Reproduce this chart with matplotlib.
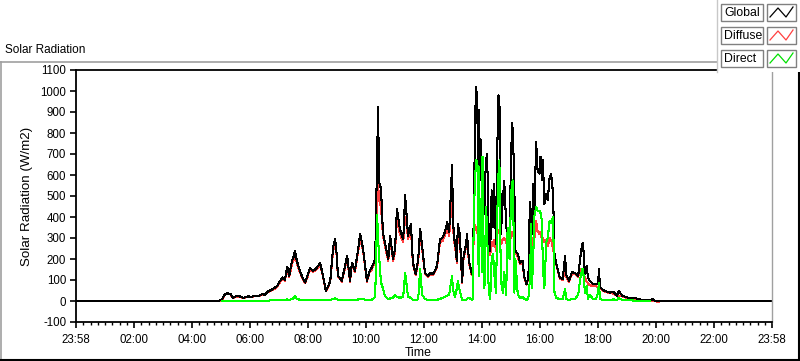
import numpy as np
import matplotlib
matplotlib.use("Agg")
import matplotlib.pyplot as plt
from matplotlib.lines import Line2D
from matplotlib.patches import Rectangle
from matplotlib.ticker import FixedLocator, NullFormatter

plt.rcParams['font.family'] = ['Liberation Sans', 'DejaVu Sans']

nan = np.nan
# Data (first time is from the previous day)
TIMES = ["23:58", "04:52", "05:00", "05:06", "05:11", "05:17", "05:23", "05:31", "05:37", "05:44",
         "05:50", "05:54", "06:01", "06:08", "06:15", "06:23", "06:29", "06:35", "06:44", "06:50",
         "06:55", "07:00", "07:06", "07:10", "07:15", "07:19", "07:25", "07:29", "07:31", "07:35",
         "07:41", "07:47", "07:52", "07:57", "08:02", "08:08", "08:13", "08:19", "08:23", "08:29",
         "08:35", "08:40", "08:44", "08:50", "08:54", "08:57", "09:00", "09:04", "09:08", "09:14",
         "09:19", "09:25", "09:29", "09:35", "09:40", "09:46", "09:52", "10:00", "10:05", "10:10",
         "10:17", "10:21", "10:23", "10:25", "10:29", "10:33", "10:37", "10:44", "10:48", "10:54",
         "10:58", "11:02", "11:08", "11:15", "11:19", "11:23", "11:25", "11:31", "11:35", "11:41",
         "11:46", "11:50", "11:54", "12:00", "12:06", "12:12", "12:17", "12:25", "12:31", "12:36",
         "12:41", "12:46", "12:50", "12:56", "12:58", "13:00", "13:02", "13:06", "13:08", "13:12",
         "13:17", "13:19", "13:25", "13:27", "13:31", "13:37", "13:39", "13:41", "13:44", "13:46",
         "13:48", "13:49", "13:51", "13:52", "13:54", "13:56", "13:58", "13:59", "14:01", "14:03",
         "14:05", "14:06", "14:08", "14:10", "14:12", "14:15", "14:18", "14:21", "14:23", "14:27",
         "14:30", "14:32", "14:34", "14:36", "14:37", "14:41", "14:44", "14:48", "14:51", "14:55",
         "14:58", "15:00", "15:02", "15:05", "15:07", "15:12", "15:17", "15:22", "15:25", "15:30",
         "15:34", "15:37", "15:40", "15:41", "15:44", "15:46", "15:50", "15:53", "15:57", "15:59",
         "16:02", "16:04", "16:07", "16:11", "16:14", "16:18", "16:21", "16:25", "16:28", "16:32",
         "16:39", "16:45", "16:50", "16:52", "16:58", "17:04", "17:10", "17:17", "17:21", "17:25",
         "17:27", "17:31", "17:35", "17:37", "17:41", "17:48", "17:54", "17:58", "18:00", "18:02",
         "18:12", "18:23", "18:29", "18:37", "18:41", "18:48", "19:00", "19:15", "19:29", "19:46",
         "19:52", "19:56", "20:02", "20:06", "23:58"]

GLOBAL = [0, 0, 8, 32, 36, 35, 15, 24, 22, 15,
          20, 22, 20, 25, 24, 32, 30, 45, 55, 64,
          75, 96, 112, 100, 163, 120, 191, 215, 239, 191,
          144, 110, 88, 120, 156, 144, 150, 167, 183, 120,
          48, 70, 96, 255, 295, 231, 120, 110, 96, 160,
          215, 96, 183, 144, 220, 319, 247, 96, 140, 159,
          200, 694, 925, 566, 535, 327, 279, 200, 311, 200,
          247, 439, 343, 295, 503, 375, 311, 367, 183, 128,
          200, 343, 263, 135, 120, 135, 128, 167, 295, 300,
          327, 375, 327, 646, 407, 295, 287, 191, 367, 319,
          88, 200, 271, 319, 191, 128, 150, 415, 893, 1021,
          942, 813, 335, 909, 574, 766, 447, 686, 520, 415,
          606, 650, 702, 574, 287, 239, 527, 351, 558, 271,
          766, 980, 958, 574, 319, 479, 574, 367, 287, 351,
          654, 846, 813, 527, 239, 223, 183, 191, 120, 80,
          112, 470, 319, 319, 558, 383, 758, 622, 606, 686,
          574, 670, 463, 510, 479, 590, 606, 510, 223, 175,
          112, 104, 215, 124, 96, 136, 135, 120, 200, 271,
          277, 128, 167, 112, 96, 80, 80, 80, 152, 64,
          48, 40, 45, 25, 48, 25, 16, 13, 5, 2,
          10, 0, 0, 0, 0]

DIFFUSE = [nan, 0, 5, 30, 33, 32, 14, 22, 20, 14,
           18, 20, 19, 23, 22, 30, 28, 42, 52, 60,
           70, 90, 105, 95, 150, 112, 178, 200, 220, 180,
           138, 105, 84, 115, 150, 138, 145, 160, 175, 115,
           46, 68, 92, 240, 280, 220, 115, 105, 92, 152,
           205, 92, 175, 138, 210, 300, 235, 92, 134, 150,
           190, 520, 560, 480, 450, 310, 265, 190, 295, 190,
           235, 390, 320, 280, 400, 340, 295, 340, 175, 122,
           190, 300, 250, 130, 115, 130, 122, 160, 280, 285,
           310, 350, 310, 500, 370, 280, 270, 180, 330, 300,
           84, 190, 260, 300, 180, 122, 140, 330, 360, 340,
           330, 320, 300, 360, 330, 310, 300, 340, 300, 290,
           300, 290, 310, 290, 250, 220, 280, 260, 290, 240,
           320, 340, 330, 300, 270, 290, 300, 280, 250, 270,
           310, 330, 320, 290, 230, 210, 175, 180, 115, 78,
           108, 290, 270, 260, 300, 290, 380, 330, 320, 330,
           290, 300, 280, 290, 260, 300, 290, 250, 210, 170,
           108, 100, 160, 115, 92, 128, 128, 115, 150, 130,
           128, 110, 90, 85, 75, 72, 70, 62, 65, 60,
           44, 38, 35, 25, 24, 22, 14, 10, 5, 2,
           2, 0, -5, 0, nan]

DIRECT = [nan, nan, 0, 0, 0, 0, 0, 0, 0, 0,
          0, 0, 0, 0, 1, 2, 2, 2, 3, 3,
          4, 5, 5, 5, 8, 5, 10, 14, 22, 10,
          6, 5, 4, 5, 6, 5, 5, 6, 6, 5,
          3, 4, 4, 10, 12, 8, 6, 5, 5, 6,
          6, 5, 6, 6, 7, 8, 8, 5, 5, 6,
          20, 410, 300, 215, 88, 60, 24, 10, 12, 15,
          30, 20, 15, 20, 135, 56, 20, 15, 6, 5,
          8, 152, 30, 10, 5, 5, 5, 6, 10, 15,
          20, 25, 30, 120, 50, 40, 20, 60, 96, 50,
          5, 5, 5, 10, 15, 5, 8, 415, 600, 670,
          660, 640, 120, 640, 260, 430, 140, 686, 200, 60,
          260, 447, 380, 200, 40, 10, 200, 225, 140, 40,
          447, 600, 670, 300, 100, 40, 140, 30, 350, 200,
          494, 560, 574, 40, 200, 30, 15, 20, 10, 5,
          15, 100, 367, 60, 200, 400, 447, 430, 430, 420,
          380, 160, 60, 280, 300, 383, 370, 400, 40, 15,
          8, 10, 58, 8, 6, 8, 8, 30, 100, 152,
          152, 40, 72, 8, 30, 8, 8, 40, 88, 8,
          5, 5, 8, 5, 15, 4, 3, 2, 1, 0,
          nan, nan, nan, nan, nan]

Y_TICKS = list(range(-100, 1101, 100))
X_TICK_LABELS = ["23:58", "02:00", "04:00", "06:00", "08:00", "10:00", "12:00",
                 "14:00", "16:00", "18:00", "20:00", "22:00", "23:58"]


def to_minutes(times):
    out = []
    for i, s in enumerate(times):
        h, m = s.split(":")
        v = int(h) * 60 + int(m)
        if i == 0:
            v -= 1440
        out.append(v)
    return np.array(out, dtype=float)


t = to_minutes(TIMES)
g = np.array(GLOBAL, dtype=float)
d = np.array(DIFFUSE, dtype=float)
b = np.array(DIRECT, dtype=float)

W, H = 800, 361
fig = plt.figure(figsize=(W / 100, H / 100), dpi=100)
fig.patch.set_facecolor("white")


def fx(x):
    return x / W


def fy(y):
    return 1 - y / H


ax_l, ax_r, ax_t, ax_b = 76, 772, 70, 322
ax = fig.add_axes([fx(ax_l), fy(ax_b), fx(ax_r - ax_l), (ax_b - ax_t) / H])

ax.plot(t, d, color="#ff4040", lw=0.75, zorder=1, antialiased=False)
ax.plot(t, g, color="#000000", lw=0.75, zorder=2, antialiased=False)
ax.plot(t, b, color="#00ff00", lw=0.75, zorder=3, antialiased=False)

ax.set_xlim(-2, 1438)
ax.set_ylim(-100, 1100)

ax.xaxis.set_major_locator(FixedLocator(np.arange(-2, 1439, 120)))
ax.set_xticklabels(X_TICK_LABELS)
ax.xaxis.set_minor_locator(FixedLocator(np.arange(-2, 1439, 15)))
ax.xaxis.set_minor_formatter(NullFormatter())
ax.yaxis.set_major_locator(FixedLocator(Y_TICKS))
ax.set_yticklabels([str(v) for v in Y_TICKS])

ax.tick_params(axis="both", which="major", labelsize=8.3, length=4, width=1.2,
               color="black", pad=3, direction="out")
ax.tick_params(axis="x", which="minor", length=2.5, width=1.0, color="black")
ax.tick_params(axis="x", which="major", length=4.5, pad=4)

for side in ("left", "top", "bottom"):
    ax.spines[side].set_color("black")
    ax.spines[side].set_linewidth(1.3)
ax.spines["right"].set_color("#a0a0a0")
ax.spines["right"].set_linewidth(1.0)

ax.set_xlabel("Time", fontsize=8.8)
ax.xaxis.set_label_coords(0.491, -0.098)
ax.set_ylabel("Solar Radiation (W/m2)", fontsize=9.6)
ax.yaxis.set_label_coords(-0.062, 0.5)

# Outer panel frame
fig.add_artist(Line2D([fx(0), fx(717)], [fy(62), fy(62)], color="#a0a0a0", lw=1.2))
fig.add_artist(Line2D([fx(0.8), fx(0.8)], [fy(62), fy(360)], color="#a0a0a0", lw=1.2))
fig.add_artist(Line2D([fx(0), fx(800)], [fy(360), fy(360)], color="black", lw=1.5))
fig.add_artist(Line2D([fx(799.3), fx(799.3)], [fy(72), fy(361)], color="black", lw=1.5))
fig.text(fx(5), fy(50), "Solar Radiation", fontsize=8.5, ha="left", va="center")

# Legend panel covering the top right
fig.add_artist(Rectangle((fx(717), fy(72)), fx(83), 72 / H, transform=fig.transFigure,
                         facecolor="white", edgecolor="none", zorder=5))
fig.add_artist(Line2D([fx(717), fx(717)], [fy(0), fy(72)], color="#c8c8c8", lw=1.0, zorder=6))

legend_items = [("Global", "#000000"), ("Diffuse", "#ff4040"), ("Direct", "#00e000")]
row_tops = [4, 27, 50]
for (name, col), top in zip(legend_items, row_tops):
    bh = 17
    fig.add_artist(Rectangle((fx(721), fy(top + bh)), fx(42), bh / H, transform=fig.transFigure,
                             facecolor="white", edgecolor="#808080", lw=1.0, zorder=6))
    fig.text(fx(724), fy(top + bh / 2 + 0.5), name, fontsize=8.8, ha="left", va="center", zorder=7)
    fig.add_artist(Rectangle((fx(767), fy(top + bh)), fx(29), bh / H, transform=fig.transFigure,
                             facecolor="white", edgecolor="#808080", lw=1.0, zorder=6))
    xs = [770, 778, 786, 793]
    ys = [top + 13, top + 4, top + 13, top + 3]
    fig.add_artist(Line2D([fx(v) for v in xs], [fy(v) for v in ys], color=col, lw=0.9, zorder=7))

fig.savefig("out.png", dpi=100, facecolor="white")
